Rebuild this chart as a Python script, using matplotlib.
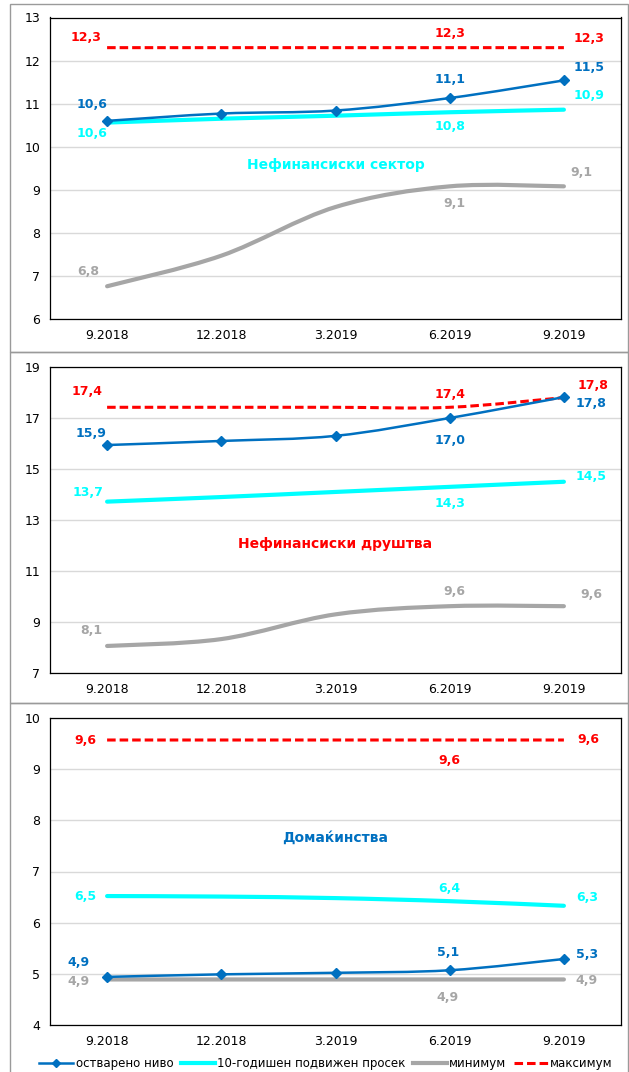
import matplotlib.pyplot as plt
from matplotlib.path import Path
from matplotlib.patches import PathPatch, Rectangle
from matplotlib.lines import Line2D

periods = ['9.2018', '12.2018', '3.2019', '6.2019', '9.2019']

# Нефинансиски сектор
sector_actual = [10.6, 10.77, 10.84, 11.13, 11.54]
sector_avg = [10.56, 10.65, 10.72, 10.8, 10.86]
sector_min = [6.76, 7.47, 8.6, 9.08, 9.08]
sector_max = [12.3, 12.3, 12.3, 12.3, 12.3]

# Нефинансиски друштва
corp_actual = [15.94, 16.1, 16.3, 17.0, 17.82]
corp_avg = [13.72, 13.9, 14.1, 14.3, 14.5]
corp_min = [8.06, 8.33, 9.3, 9.62, 9.62]
corp_max = [17.42, 17.42, 17.42, 17.42, 17.8]

# Домаќинства
hh_actual = [4.94, 4.99, 5.02, 5.07, 5.29]
hh_avg = [6.52, 6.51, 6.48, 6.42, 6.33]
hh_min = [4.89, 4.89, 4.89, 4.89, 4.89]
hh_max = [9.57, 9.57, 9.57, 9.57, 9.57]

legend_labels = ['остварено ниво', '10-годишен подвижен просек', 'минимум', 'максимум']

BLUE = '#0070C0'
CYAN = '#00FFFF'
GRAY = '#A6A6A6'
RED = '#FF0000'

W, H = 629, 1072
fig = plt.figure(figsize=(W / 100, H / 100), dpi=100)
plt.rcParams['font.family'] = 'DejaVu Sans'


def smooth_path(ys):
    # excel-style smoothed line: cubic bezier segments through the points
    pts = list(zip(range(len(ys)), ys))
    n = len(pts)
    verts = [pts[0]]
    codes = [Path.MOVETO]
    for i in range(n - 1):
        p0 = pts[max(i - 1, 0)]
        p1 = pts[i]
        p2 = pts[i + 1]
        p3 = pts[min(i + 2, n - 1)]
        c1 = (p1[0] + (p2[0] - p0[0]) / 6, p1[1] + (p2[1] - p0[1]) / 6)
        c2 = (p2[0] - (p3[0] - p1[0]) / 6, p2[1] - (p3[1] - p1[1]) / 6)
        verts += [c1, c2, p2]
        codes += [Path.CURVE4] * 3
    return Path(verts, codes)


def fmt(v):
    return ('%.1f' % v).replace('.', ',')


def panel(top, bottom, ylim, yticks, series, offsets, title, title_color, title_y):
    ax = fig.add_axes([50 / W, 1 - bottom / H, 571 / W, (bottom - top) / H])
    ax.set_xlim(-0.5, 4.5)
    ax.set_ylim(*ylim)
    ax.set_yticks(yticks)
    ax.set_xticks(range(len(periods)))
    ax.set_xticklabels(periods)
    ax.tick_params(length=0, labelsize=9, pad=7)
    ax.grid(axis='y', color='#D9D9D9', lw=1)
    ax.set_axisbelow(True)
    for s in ax.spines.values():
        s.set_color('black')
        s.set_linewidth(0.9)

    actual, avg, mn, mx = series
    ax.add_patch(PathPatch(smooth_path(mn), fill=False, ec=GRAY, lw=3, capstyle='round', zorder=2))
    ax.add_patch(PathPatch(smooth_path(avg), fill=False, ec=CYAN, lw=3, capstyle='round', zorder=3))
    ax.add_patch(PathPatch(smooth_path(mx), fill=False, ec=RED, lw=2.2,
                           linestyle=(0, (2.8, 1.3)), capstyle='butt', zorder=4))
    ax.add_patch(PathPatch(smooth_path(actual), fill=False, ec=BLUE, lw=1.8, zorder=5))
    ax.plot(range(len(actual)), actual, ls='none', marker='D', ms=5.5, color=BLUE, zorder=6)

    colors = [BLUE, CYAN, GRAY, RED]
    for vals, offs, c in zip(series, offsets, colors):
        for i, (dx, dy) in zip([0, 3, 4], offs):
            ax.annotate(fmt(vals[i]), (i, vals[i]), xytext=(dx, dy), textcoords='offset pixels',
                        ha='center', va='center', color=c, fontsize=9, fontweight='bold', zorder=7)

    ax.text(0.5, 1 - (title_y - top) / (bottom - top), title, transform=ax.transAxes,
            ha='center', va='center', color=title_color, fontsize=10, fontweight='bold')
    return ax


# panel frames
for y0, y1 in [(4, 352), (352, 703), (703, 1075)]:
    fig.add_artist(Rectangle((10 / W, 1 - y1 / H), 618 / W, (y1 - y0) / H,
                             transform=fig.transFigure, fill=False, ec='#9A9A9A', lw=1))

panel(17.5, 319, (6, 13), range(6, 14),
      [sector_actual, sector_avg, sector_min, sector_max],
      [[(-15, 16), (0, 19), (25, 13)],
       [(-15, -11), (0, -14), (25, 14)],
       [(-19, 15), (5, -17), (18, 14)],
       [(-21, 10), (0, 14), (25, 9)]],
      'Нефинансиски сектор', CYAN, 165)

panel(367, 673, (7, 19), range(7, 20, 2),
      [corp_actual, corp_avg, corp_min, corp_max],
      [[(-16, 12), (0, -22), (27, -6)],
       [(-19, 9), (0, -17), (27, 5)],
       [(-16, 15), (5, 15), (27, 12)],
       [(-20, 16), (0, 13), (29, 12)]],
      'Нефинансиски друштва', RED, 544)

panel(718, 1025, (4, 10), range(4, 11),
      [hh_actual, hh_avg, hh_min, hh_max],
      [[(-29, 14), (-2, 18), (23, 4)],
       [(-22, 0), (0, 13), (23, 8)],
       [(-29, -2), (-2, -18), (23, -1)],
       [(-22, 0), (0, -20), (24, 1)]],
      'Домаќинства', BLUE, 838)

handles = [
    Line2D([], [], color=BLUE, lw=1.8, marker='D', ms=4),
    Line2D([], [], color=CYAN, lw=3),
    Line2D([], [], color=GRAY, lw=3),
    Line2D([], [], color=RED, lw=2.2, ls=(0, (2.8, 1.3))),
]
fig.legend(handles, legend_labels, loc='center', bbox_to_anchor=(326 / W, 1 - 1064 / H),
           ncol=4, frameon=False, fontsize=8.5, handlelength=2.9, handletextpad=0.2,
           columnspacing=0.6, borderaxespad=0, borderpad=0)

fig.savefig('out.png', dpi=100)
